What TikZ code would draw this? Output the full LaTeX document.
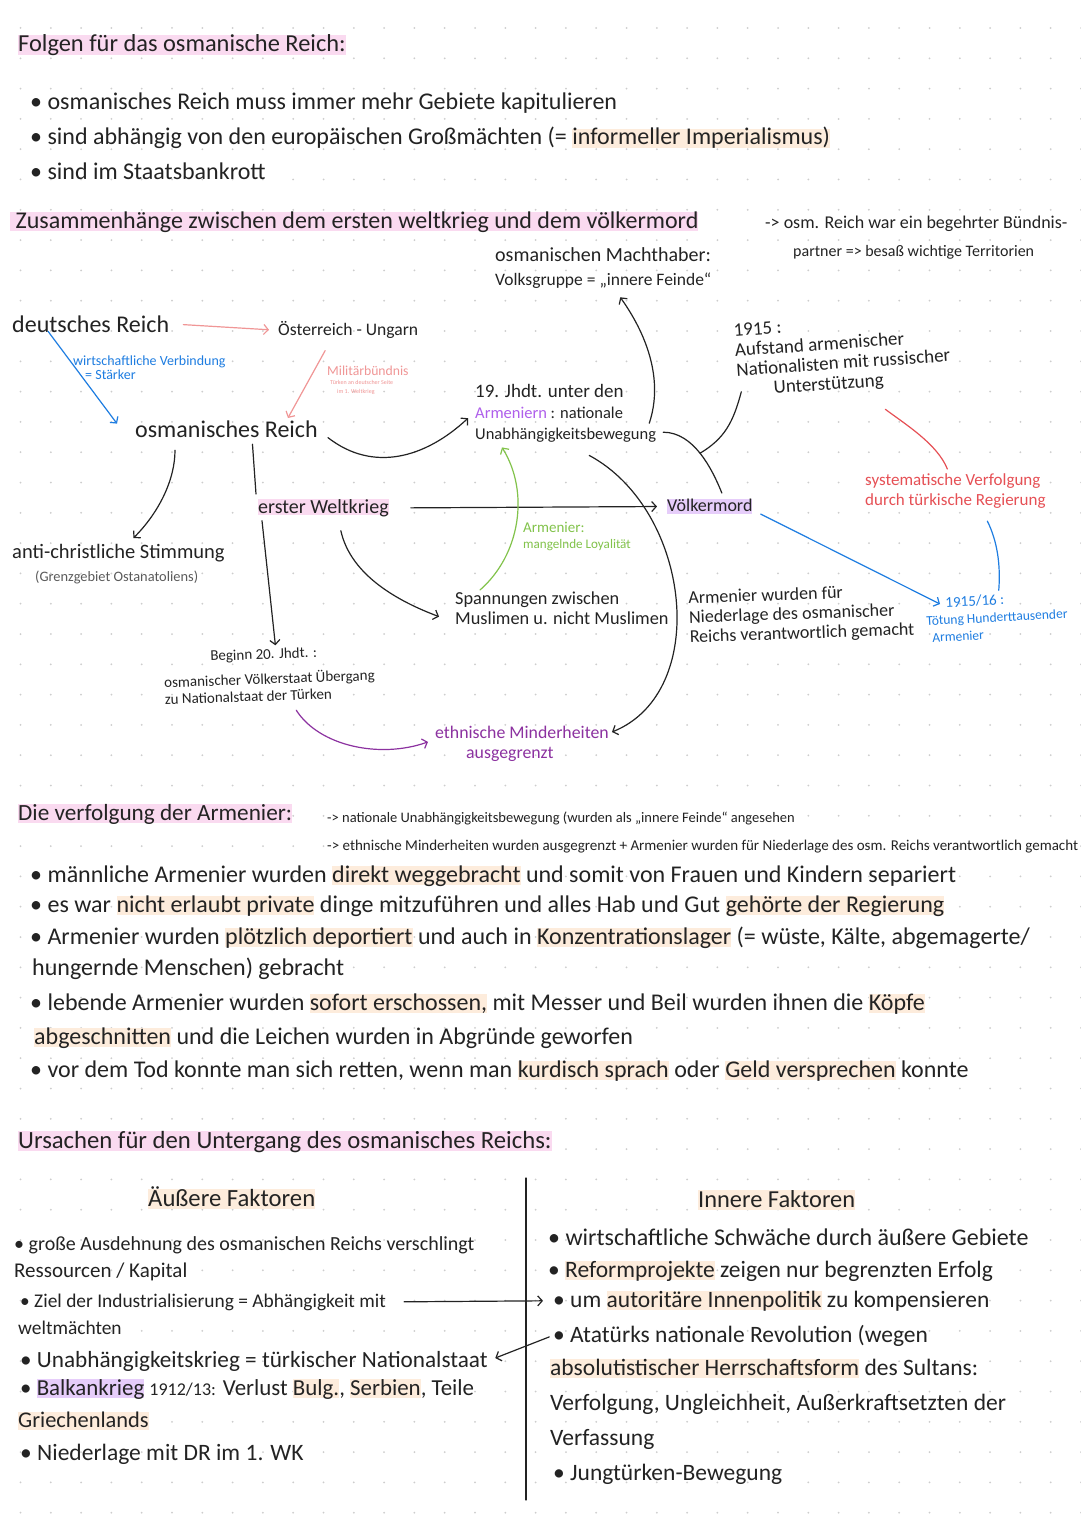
\documentclass[tikz,border=0pt]{standalone}
\usepackage{fontspec}
\setmainfont{Carlito}
\definecolor{ink}{RGB}{35,35,35}
\definecolor{dotgray}{RGB}{205,205,205}
\definecolor{hlpink}{RGB}{250,218,240}
\definecolor{hlorange}{RGB}{253,236,220}
\definecolor{hlpurple}{RGB}{230,205,250}
\definecolor{bluepen}{RGB}{30,125,225}
\definecolor{salmonpen}{RGB}{240,150,150}
\definecolor{redpen}{RGB}{230,80,85}
\definecolor{greenpen}{RGB}{130,195,75}
\definecolor{purplepen}{RGB}{140,50,160}
\definecolor{lilac}{RGB}{175,95,235}
\definecolor{graytext}{RGB}{90,90,90}
\usetikzlibrary{arrows.meta,positioning}

\newsavebox{\hlsave}
\newcommand{\hl}[2]{\sbox{\hlsave}{#2}\rlap{\textcolor{#1}{\rule[-0.12em]{\wd\hlsave}{0.8em}}}\usebox{\hlsave}}
\newcommand{\fs}[1]{\fontsize{#1}{1.2\dimexpr#1pt\relax}\selectfont}

\begin{document}
\begin{tikzpicture}[x=1pt,y=-1pt,
  every node/.style={inner sep=0pt,text=ink},
  pen/.style={draw=ink,line width=1.2pt,line cap=round},
  tip/.style={-{Straight Barb[length=4.5pt,width=10pt]}},
  line/.style={anchor=base west,font=\fs{24}},
  head/.style={anchor=base west,font=\fs{24}},
  note/.style={anchor=base west,font=\fs{14.5}},
  diag/.style={anchor=north west,align=left,font=\fontsize{17}{20}\selectfont},
  causes/.style={anchor=base west,font=\fs{23.5}}]
  \fill[white] (0,0) rectangle (1080,1525);
  \useasboundingbox (0,0) rectangle (1080,1525);
  \foreach \i in {0,...,35}{
    \foreach \j in {0,...,50}{
      \fill[dotgray] (20.5+30.3*\i,28+30.3*\j) circle (1);
    }
  }

  % Folgen
  \node[head,font=\fs{24.4}] (fol) at (18,52) {\hl{hlpink}{Folgen für das osmanische Reich:}};
  \node[line] (fol1) at (30,110) {• osmanisches Reich muss immer mehr Gebiete kapitulieren};
  \node[line] (fol2) at (30,145) {• sind abhängig von den europäischen Großmächten (= \hl{hlorange}{informeller Imperialismus)}};
  \node[line] (fol3) at (30,179) {• sind im Staatsbankrott};

  % Zusammenhaenge
  \node[head] (zus) at (10,228) {\hl{hlpink}{\ Zusammenhänge zwischen dem ersten weltkrieg und dem völkermord}};
  \node[note,font=\fs{18}] (bund1) at (765,228) {-> osm. Reich war ein begehrter Bündnis-};
  \node[note,font=\fs{16}] (bund2) at (793,256) {partner => besaß wichtige Territorien};

  \node[diag,font=\fontsize{17.5}{24}\selectfont] (macht) at (495,247) {{\fs{20}osmanischen Machthaber:}\\Volksgruppe = „innere Feinde“};
  \node[diag,font=\fs{24}] (dreich) at (12,316) {deutsches Reich};
  \node[diag,font=\fs{17.6}] (oeu) at (278,321) {Österreich - Ungarn};
  \node[diag,font=\fs{24}] (osmr) at (135,421) {osmanisches Reich};
  \node[diag,font=\fontsize{14}{14}\selectfont,text=bluepen] (wv) at (73,356) {wirtschaftliche Verbindung\\\hspace*{12pt}= Stärker};
  \node[diag,font=\fontsize{13.7}{14}\selectfont,text=salmonpen] (mb) at (327,366)
    {Militärbündnis\\[-5pt]{\fontsize{6}{7}\selectfont\hspace*{3pt}Türken an deutscher Seite}\\[-5pt]{\fontsize{6}{7}\selectfont\hspace*{10pt}im 1. Weltkrieg}};
  \node[diag,font=\fontsize{16.5}{21}\selectfont] (jh) at (475,384) {{\fs{19}19. Jhdt. unter den}\\\textcolor{lilac}{Armeniern} : nationale\\Unabhängigkeitsbewegung};
  \node[diag,font=\fontsize{19}{20}\selectfont,rotate=4] (aufst) at (733,324) {1915 :\\Aufstand armenischer\\Nationalisten mit russischer\\\hspace*{36pt}Unterstützung};
  \node[diag,font=\fontsize{17}{20}\selectfont,text=redpen] (sysv) at (865,473) {systematische Verfolgung\\durch türkische Regierung};
  \node[diag,font=\fontsize{13.5}{17}\selectfont,text=bluepen,rotate=3] (toet) at (925,598) {\hspace*{20pt}{\fs{15}1915/16 :}\\Tötung Hunderttausender\\\hspace*{5pt}Armenier};
  \node[diag,font=\fs{20}] (ewk) at (258,499) {\hl{hlpink}{erster Weltkrieg}};
  \node[diag,font=\fs{18}] (vmord) at (667,499) {\hl{hlpurple}{Völkermord}};
  \node[diag,font=\fontsize{20.5}{23}\selectfont] (achr) at (12,544) {anti-christliche Stimmung\\\hspace*{23pt}{\fs{14.4}\color{graytext}(Grenzgebiet Ostanatoliens)}};
  \node[diag,font=\fontsize{15}{17}\selectfont,rotate=2] (beginn) at (163,652) {\hspace*{47pt}Beginn 20. Jhdt. :\\[8pt]osmanischer Völkerstaat Übergang\\zu Nationalstaat der Türken};
  \node[diag,font=\fontsize{18.3}{20}\selectfont] (spann) at (455,592) {Spannungen zwischen\\Muslimen u. nicht Muslimen};
  \node[diag,font=\fontsize{15}{16}\selectfont,text=greenpen] (armgr) at (523,522) {Armenier:\\{\fs{13.1}mangelnde Loyalität}};
  \node[diag,font=\fontsize{18}{19.5}\selectfont,rotate=2] (armver) at (688,591) {Armenier wurden für\\Niederlage des osmanischer\\Reichs verantwortlich gemacht};
  \node[diag,font=\fontsize{17.8}{20}\selectfont,text=purplepen] (ethn) at (435,726) {ethnische Minderheiten\\\hspace*{31pt}ausgegrenzt};

  \draw[pen,tip,draw=salmonpen] (dreich.east) ++(14,0) -- ([xshift=-9pt]oeu.west);
  \draw[pen,tip,draw=bluepen] ([shift={(36,-2)}]dreich.south west) -- ([shift={(-18,-6)}]osmr.west);
  \draw[pen,tip,draw=salmonpen] ([shift={(-23,12)}]oeu.south) -- ([shift={(-30,-3)}]osmr.north east);
  \draw[pen,tip] ([shift={(10,8)}]osmr.east) .. controls +(45,35) and +(-43,40) .. ([shift={(-7,5)}]jh.west);
  \draw[pen,tip] ([shift={(-7,10)}]jh.east) .. controls +(15,-45) and +(25,35) .. ([shift={(17,9)}]macht.south);
  \draw[pen,tip] ([shift={(40,12)}]osmr.south west) .. controls +(0,30) and +(25,-25) .. ([shift={(15,-6)}]achr.north);
  \draw[pen] ([shift={(26,6)}]osmr.south) -- ([shift={(-2,-5)}]ewk.north west);
  \draw[pen,tip] ([shift={(4,4)}]ewk.south west) -- ([shift={(7,-3)}]beginn.north);
  \draw[pen,tip] ([shift={(-48,14)}]ewk.south east) .. controls +(10,45) and +(-40,-15) .. ([shift={(-16,8)}]spann.west);
  \draw[pen,tip] ([xshift=22pt]ewk.east) -- ([xshift=-10pt]vmord.west);
  \draw[pen,tip,draw=greenpen] ([shift={(25,-2)}]spann.north west) .. controls +(40,-35) and +(28,45) .. ([shift={(27,5)}]jh.south west);
  \draw[pen,tip] ([shift={(-67,13)}]jh.south east) .. controls +(102,55) and +(99,-40) .. ([shift={(3,6)}]ethn.north east);
  \draw[pen,tip,draw=purplepen] ([shift={(26,9)}]beginn.south) .. controls +(23,36) and +(-48,17) .. ([shift={(-7,-2)}]ethn.west);
  \draw[pen] ([shift={(7,19)}]jh.east) .. controls +(30,0) and +(-10,-25) .. coordinate[pos=0.5] (jhv) ([shift={(12,-6)}]vmord.north);
  \draw[pen] ([shift={(3,-8)}]aufst.south west) .. controls +(-8,30) and +(25,-15) .. (jhv);
  \draw[pen,draw=redpen] ([shift={(40,17)}]aufst.south) .. controls +(20,15) and +(-10,-25) .. ([shift={(-8,-4)}]sysv.north);
  \draw[pen,draw=bluepen] ([shift={(32,13)}]sysv.south) .. controls +(10,20) and +(2,-25) .. ([shift={(3,-4)}]toet.north);
  \draw[pen,tip,draw=bluepen] ([shift={(8,0)}]vmord.south east) -- ([shift={(15,6)}]toet.north west);

  % Verfolgung
  \node[head,font=\fs{23.2}] (vfh) at (18,820) {\hl{hlpink}{Die verfolgung der Armenier:}};
  \node[note] (vfn1) at (327,822) {-> nationale Unabhängigkeitsbewegung (wurden als „innere Feinde“ angesehen};
  \node[note,font=\fs{15}] (vfn2) at (327,850) {-> ethnische Minderheiten wurden ausgegrenzt + Armenier wurden für Niederlage des osm. Reichs verantwortlich gemacht};
  \node[line] (vf1) at (30,882) {• männliche Armenier wurden \hl{hlorange}{direkt weggebracht} und somit von Frauen und Kindern separiert};
  \node[line] (vf2) at (30,912) {• es war \hl{hlorange}{nicht erlaubt private} dinge mitzuführen und alles Hab und Gut \hl{hlorange}{gehörte der Regierung}};
  \node[line] (vf3) at (30,944) {• Armenier wurden \hl{hlorange}{plötzlich deportiert} und auch in \hl{hlorange}{Konzentrationslager} (= wüste, Kälte, abgemagerte/};
  \node[line] (vf4) at (32,975) {hungernde Menschen) gebracht};
  \node[line] (vf5) at (30,1010) {• lebende Armenier wurden \hl{hlorange}{sofort erschossen,} mit Messer und Beil wurden ihnen die \hl{hlorange}{Köpfe}};
  \node[line] (vf6) at (34,1044) {\hl{hlorange}{abgeschnitten} und die Leichen wurden in Abgründe geworfen};
  \node[line] (vf7) at (30,1077) {• vor dem Tod konnte man sich retten, wenn man \hl{hlorange}{kurdisch sprach} oder \hl{hlorange}{Geld versprechen} konnte};

  % Ursachen
  \node[head,font=\fs{24.7}] (urs) at (18,1148) {\hl{hlpink}{Ursachen für den Untergang des osmanisches Reichs:}};
  \node[causes,font=\fs{24.7}] (aussen) at (148,1206) {\hl{hlorange}{Äußere Faktoren}};
  \node[causes,font=\fs{24.4}] (innen) at (698,1207) {\hl{hlorange}{Innere Faktoren}};
  \draw[pen] (526,1178) -- (526,1500);
  \node[causes,font=\fs{20}] (au1) at (14,1250) {• große Ausdehnung des osmanischen Reichs verschlingt};
  \node[causes,font=\fs{21}] (au2) at (14,1277) {Ressourcen / Kapital};
  \node[causes,font=\fs{19.4}] (au3) at (20,1307) {• Ziel der Industrialisierung = Abhängigkeit mit};
  \node[causes,font=\fs{19.4}] (au4) at (18,1334) {weltmächten};
  \node[causes,font=\fs{23.2}] (au5) at (20,1367) {• Unabhängigkeitskrieg = türkischer Nationalstaat};
  \node[causes,font=\fs{22.9}] (au6) at (20,1395) {• \hl{hlpurple}{Balkankrieg} {\fs{18}1912/13:} Verlust \hl{hlorange}{Bulg.}, \hl{hlorange}{Serbien}, Teile};
  \node[causes,font=\fs{22.4}] (au7) at (18,1427) {\hl{hlorange}{Griechenlands}};
  \node[causes] (au8) at (20,1460) {• Niederlage mit DR im 1. WK};
  \node[causes,font=\fs{24}] (in1) at (548,1245) {• wirtschaftliche Schwäche durch äußere Gebiete};
  \node[causes] (in2) at (548,1277) {• \hl{hlorange}{Reformprojekte} zeigen nur begrenzten Erfolg};
  \node[causes] (in3) at (553,1307) {• um \hl{hlorange}{autoritäre Innenpolitik} zu kompensieren};
  \node[causes] (in4) at (553,1342) {• Atatürks nationale Revolution (wegen};
  \node[causes] (in5) at (550,1375) {\hl{hlorange}{absolutistischer Herrschaftsform} des Sultans:};
  \node[causes] (in6) at (550,1410) {Verfolgung, Ungleichheit, Außerkraftsetzten der};
  \node[causes] (in7) at (550,1445) {Verfassung};
  \node[causes] (in8) at (553,1480) {• Jungtürken-Bewegung};
  \draw[pen,tip,shorten <=18pt,shorten >=10pt] (au3.east) -- (in3.west);
  \draw[pen,tip,shorten <=4pt,shorten >=8pt] (in4.west) -- (au5.east);
\end{tikzpicture}
\end{document}
